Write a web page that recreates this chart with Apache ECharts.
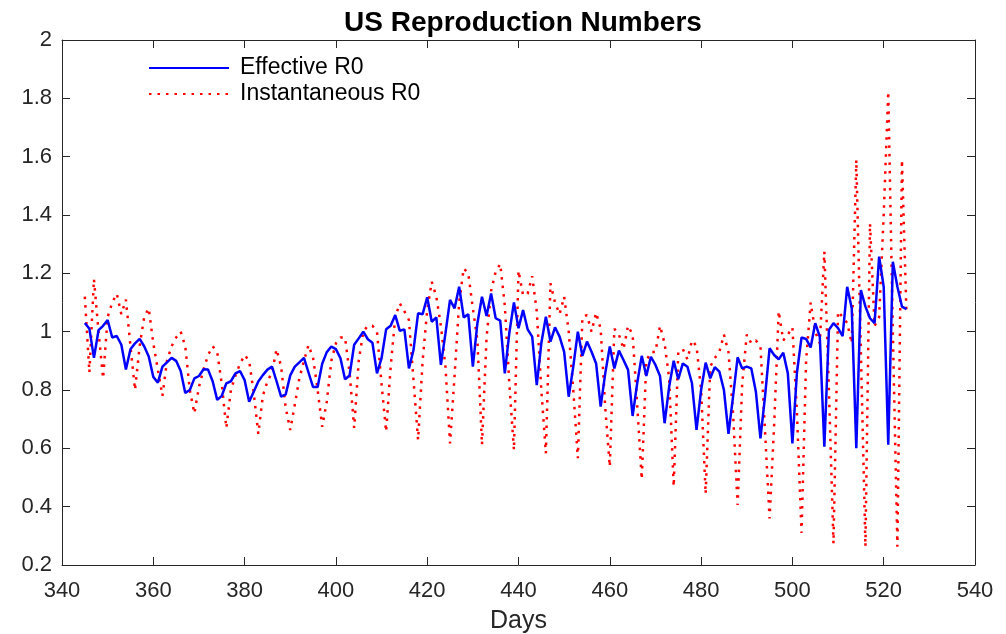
<!DOCTYPE html>
<html><head><meta charset="utf-8">
<script src="https://cdn.jsdelivr.net/npm/echarts@6/dist/echarts.min.js"></script>
<style>html,body{margin:0;padding:0;background:#fff}#c{width:1006px;height:634px}</style>
</head><body><div id="c"></div>
<script>
const chartTitle = 'US Reproduction Numbers';
const xAxisName = 'Days';
const seriesNames = ['Effective R0', 'Instantaneous R0'];
const startDay = 345;
const effectiveR0 = [
1.03,1.01,0.91,1.005,1.02,1.04,0.98,0.985,0.955,0.87,
0.94,0.96,0.975,0.95,0.915,0.845,0.825,0.88,0.895,0.91,
0.90,0.865,0.79,0.80,0.84,0.848,0.871,0.87,0.83,0.766,
0.78,0.823,0.83,0.857,0.865,0.834,0.76,0.794,0.829,0.851,
0.87,0.88,0.83,0.777,0.785,0.85,0.88,0.895,0.91,0.86,
0.81,0.81,0.89,0.93,0.949,0.94,0.909,0.837,0.85,0.955,
0.977,1.00,0.974,0.962,0.857,0.909,1.008,1.02,1.057,1.003,
1.008,0.874,0.937,1.063,1.06,1.118,1.034,1.049,0.886,0.994,
1.109,1.08,1.154,1.049,1.06,0.88,1.029,1.12,1.054,1.131,
1.046,1.038,0.857,0.997,1.10,1.012,1.074,1.008,0.983,0.817,
0.96,1.051,0.966,1.015,0.983,0.931,0.777,0.88,1.0,0.917,
0.966,0.931,0.891,0.743,0.857,0.949,0.874,0.935,0.903,0.869,
0.711,0.823,0.917,0.848,0.914,0.886,0.848,0.686,0.811,0.90,
0.837,0.891,0.88,0.823,0.663,0.80,0.894,0.84,0.878,0.863,
0.80,0.65,0.777,0.912,0.874,0.88,0.874,0.794,0.634,0.777,
0.943,0.92,0.905,0.928,0.857,0.617,0.86,0.98,0.975,0.946,
1.029,0.983,0.606,1.006,1.029,1.012,0.985,1.154,1.08,0.60,
1.143,1.086,1.046,1.029,1.257,1.154,0.612,1.24,1.154,1.086,
1.077
];
const instantaneousR0 = [
1.12,0.86,1.18,1.00,0.84,1.05,1.10,1.13,1.06,1.11,
0.95,0.80,0.95,1.05,1.08,0.96,0.87,0.78,0.90,0.95,
0.98,1.00,0.95,0.80,0.72,0.81,0.87,0.92,0.95,0.93,
0.82,0.67,0.80,0.85,0.89,0.92,0.90,0.79,0.65,0.78,
0.83,0.86,0.94,0.88,0.74,0.663,0.75,0.84,0.90,0.954,
0.91,0.80,0.674,0.76,0.90,0.96,0.98,0.98,0.86,0.67,
0.90,1.00,1.02,1.02,1.00,0.82,0.657,0.88,1.05,1.097,
1.07,1.04,0.834,0.629,0.90,1.074,1.171,1.12,1.02,0.88,
0.617,0.85,1.10,1.217,1.20,1.08,0.97,0.612,0.98,1.14,
1.206,1.232,1.09,0.82,0.594,1.209,1.125,1.13,1.19,1.07,
0.80,0.583,1.166,1.10,1.06,1.12,1.00,0.80,0.566,1.05,
1.057,1.00,1.065,1.01,0.74,0.537,1.01,0.99,0.94,1.02,
0.99,0.75,0.494,0.90,0.93,0.93,1.02,0.96,0.84,0.469,
0.93,0.94,0.905,0.97,0.95,0.80,0.444,0.88,0.91,0.93,
0.99,0.93,0.72,0.406,0.82,0.99,0.96,0.97,0.95,0.66,
0.36,0.68,1.07,0.97,0.99,1.015,0.72,0.31,0.90,1.10,
1.00,0.96,1.274,0.80,0.274,1.069,1.05,1.03,0.96,1.589,
0.93,0.263,1.371,1.02,1.05,1.40,1.823,1.00,0.263,1.589,
1.057
];
const xMin = 340, xMax = 540, xStep = 20;
const yMin = 0.2, yMax = 2, yStep = 0.2;

const toPairs = arr => arr.map((v, i) => [startDay + i, v]);
const axisColor = '#262626';
const fontFam = '"Liberation Sans", Arial, sans-serif';

const chart = echarts.init(document.getElementById('c'), null, {renderer: 'canvas'});
const baseX = {
  type: 'value', min: xMin, max: xMax, interval: xStep,
  axisLine: {show: true, onZero: false, lineStyle: {color: axisColor, width: 1}},
  axisTick: {show: true, inside: true, length: 8, lineStyle: {color: axisColor}},
  splitLine: {show: false}
};
const baseY = {
  type: 'value', min: yMin, max: yMax, interval: yStep,
  axisLine: {show: true, onZero: false, lineStyle: {color: axisColor, width: 1}},
  axisTick: {show: true, inside: true, length: 8, lineStyle: {color: axisColor}},
  splitLine: {show: false}
};
chart.setOption({
  animation: false,
  backgroundColor: '#fff',
  title: {
    text: chartTitle, left: 518, top: 4, textAlign: 'center',
    textStyle: {fontFamily: fontFam, fontSize: 28, fontWeight: 'bold', color: '#000'}
  },
  grid: {left: 62, right: 31, top: 40, bottom: 69, containLabel: false, outerBoundsMode: 'none'},
  legend: {
    orient: 'vertical', left: 148, top: 56, padding: 0, itemWidth: 80, itemHeight: 14, itemGap: 2,
    itemStyle: {opacity: 0},
    textStyle: {fontFamily: fontFam, fontSize: 23, color: '#000', padding: [0,0,0,6], lineHeight: 24},
    data: seriesNames
  },
  xAxis: [
    Object.assign({}, baseX, {
      position: 'bottom', name: xAxisName, nameLocation: 'middle', nameGap: 44,
      nameTextStyle: {fontFamily: fontFam, fontSize: 25, color: axisColor},
      axisLabel: {fontFamily: fontFam, fontSize: 22, color: axisColor, margin: 15}
    }),
    Object.assign({}, baseX, {position: 'top', axisLabel: {show: false}})
  ],
  yAxis: [
    Object.assign({}, baseY, {
      position: 'left',
      axisLabel: {fontFamily: fontFam, fontSize: 22, color: axisColor, margin: 10,
        formatter: v => String(Math.round(v * 10) / 10)}
    }),
    Object.assign({}, baseY, {position: 'right', axisLabel: {show: false}})
  ],
  series: [
    {
      name: seriesNames[0], type: 'line', data: toPairs(effectiveR0),
      showSymbol: false, symbol: 'none', color: '#0000ff',
      lineStyle: {color: '#0000ff', width: 2.5}, z: 3
    },
    {
      name: seriesNames[1], type: 'line', data: toPairs(instantaneousR0),
      showSymbol: false, symbol: 'none', color: '#ff0000',
      lineStyle: {color: '#ff0000', width: 2.5, type: [2.5, 6], cap: 'butt'}, z: 2
    }
  ]
});
</script></body></html>
